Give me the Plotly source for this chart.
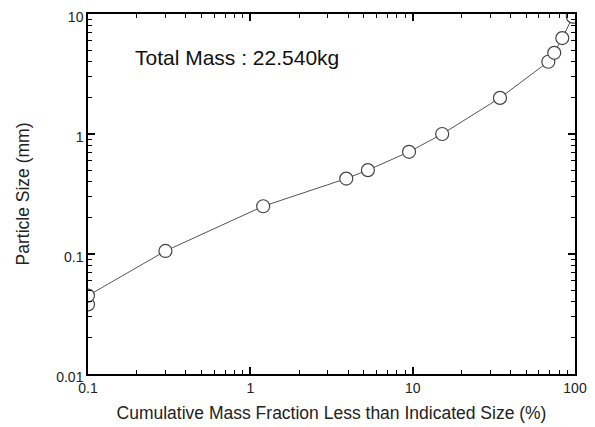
import plotly.graph_objects as go

# Data (cumulative % passing vs sieve size)
cum_mass_pct = [0.1, 0.1, 0.3, 1.2, 3.9, 5.3, 9.5, 15.2, 34.5, 68.5, 74.5, 83.5, 97.0]
particle_mm = [0.038, 0.045, 0.106, 0.25, 0.425, 0.5, 0.71, 1.0, 2.0, 4.0, 4.75, 6.3, 9.5]

x_ticks = [0.1, 1, 10, 100]
x_tick_labels = ["0.1", "1", "10", "100"]
y_ticks = [0.01, 0.1, 1, 10]
y_tick_labels = ["0.01", "0.1", "1", "10"]

FONT = "Liberation Sans, Arial, sans-serif"

fig = go.Figure()
fig.add_trace(go.Scatter(
    x=cum_mass_pct, y=particle_mm,
    mode="lines+markers",
    line=dict(color="#555555", width=1),
    marker=dict(symbol="circle", size=13, color="white",
                line=dict(color="#444444", width=1.2)),
    cliponaxis=True,
    showlegend=False,
))

axis_common = dict(
    type="log",
    automargin=False,
    ticklabeloverflow="allow",
    showgrid=False,
    zeroline=False,
    showline=True,
    linecolor="black",
    linewidth=1.5,
    mirror="ticks",
    ticks="inside",
    ticklen=7,
    tickwidth=1.5,
    tickcolor="black",
    tickfont=dict(family=FONT, size=14, color="#222222"),
    minor=dict(ticks="inside", ticklen=4, tickwidth=1.2, tickcolor="black",
               dtick="D1", showgrid=False),
)

fig.update_xaxes(
    **axis_common,
    range=[-1, 2],
    tickvals=x_ticks, ticktext=x_tick_labels,
    title=dict(text="Cumulative Mass Fraction Less than Indicated Size (%)",
               font=dict(family=FONT, size=17.5, color="#222222"), standoff=12),
)
fig.update_yaxes(
    **axis_common,
    range=[-2, 1],
    ticklabelshift=3,
    tickvals=y_ticks, ticktext=y_tick_labels,
    title=dict(text="Particle Size (mm)",
               font=dict(family=FONT, size=17.5, color="#222222"), standoff=22),
)

fig.add_annotation(
    x=0.092, y=0.88, xref="paper", yref="paper",
    text="Total Mass : 22.540kg", showarrow=False,
    xanchor="left", yanchor="middle",
    font=dict(family=FONT, size=21, color="#111111"),
)

# page body has an 8px default margin, so the figure is sized to fit the window
fig.update_layout(
    width=587, height=419,
    margin=dict(l=80, r=20, t=6, b=53),
    paper_bgcolor="white", plot_bgcolor="white",
)

fig.write_html("out.html")
